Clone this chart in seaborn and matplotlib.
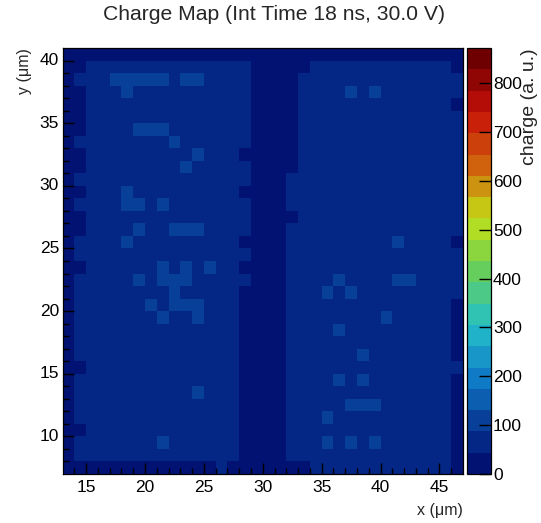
import numpy as np
import pandas as pd
import matplotlib
matplotlib.use("Agg")
import matplotlib.pyplot as plt
from matplotlib.colors import ListedColormap, LinearSegmentedColormap
from matplotlib.ticker import FixedLocator
import seaborn as sns

# ---------------- data ----------------
# bin edges (1 um bins)
x_first_edge = 13      # x from 13 to 47 um
y_top_edge = 41        # y from 41 (top) down to 7 um
n_bins = 34

# charge level code per cell, rows from top (y=40..41) to bottom (y=7..8),
# columns from x=13..14 to x=46..47
# 0 -> darkest level, 1 -> second level, 2 -> third level
cell_rows = [
    "0000000000000000000000000000000000",
    "0011111111111111000001111111111110",
    "0111222221221111000011111111111111",
    "0011121111111111000011112121111111",
    "0011111111111111000011111111111110",
    "0011111111111111000011111111111111",
    "0011112221111111000011111111111111",
    "0111111112111111000011111111111111",
    "0011111111121110000011111111111111",
    "0011111111211111000011111111111111",
    "0111111111111111000111111111111111",
    "0011121111111110000111111111111111",
    "0111122121111111000111111111111111",
    "0011111111111111000011111111111111",
    "0011112112221111000111111111111111",
    "0111121111111110000111111111211110",
    "0111111111111111000111111111111111",
    "0011111121212110000111111111111111",
    "0111112122211111000111121111221111",
    "0111111112111110000111212111111111",
    "0111111212221110000111111111111110",
    "0111111121121110000111111112111110",
    "0111111111111110000111121111111110",
    "0111111111111110000111111111111110",
    "0111111111111110000111111211111110",
    "0011111111111110000111111111111111",
    "0111111111111110000111121211111110",
    "0111111111121110000111111111111110",
    "0111111111111110000111112221111110",
    "0111111111111110000111211111111110",
    "0011111111111110000111111111111110",
    "0111111121111110000111212121111110",
    "0111111111111110000111111111111110",
    "0000000000000100000001111111111110",
]
# representative charge (a.u.) for each level code
level_charge = [24, 66, 108]

x_ticks = [15, 20, 25, 30, 35, 40, 45]
y_ticks = [10, 15, 20, 25, 30, 35, 40]
z_max = 872
n_levels = 20
cbar_ticks = [0, 100, 200, 300, 400, 500, 600, 700, 800]

title = "Charge Map (Int Time 18 ns, 30.0 V)"
xlabel = "x (\u03bcm)"
ylabel = "y (\u03bcm)"
zlabel = "charge (a. u.)"

# ---------------- build table ----------------
x_lo = [x_first_edge + i for i in range(n_bins)]
y_lo = [y_top_edge - 1 - j for j in range(n_bins)]
charge = [[level_charge[int(ch)] for ch in row] for row in cell_rows]
df = pd.DataFrame(charge, index=y_lo, columns=x_lo)

# ROOT kRainBow palette, discretised in 20 contour levels
rainbow_anchor = [
    (0, 0, 99), (5, 48, 142), (15, 124, 198), (35, 192, 201), (102, 206, 90),
    (196, 226, 22), (208, 97, 13), (199, 16, 8), (110, 0, 2)]
base = LinearSegmentedColormap.from_list(
    "krainbow", [tuple(c / 255 for c in a) for a in rainbow_anchor], N=256)
level_colors = [base((i + 0.99) / n_levels) for i in range(n_levels)]
cmap = ListedColormap(level_colors)

# ---------------- figure ----------------
sns.set_style("white")
plt.rcParams["font.family"] = ["Liberation Sans", "DejaVu Sans"]

W, H = 541, 523
fig = plt.figure(figsize=(W / 100, H / 100), dpi=100)
L, R, T, B = 62.5, 463.0, 48.0, 474.0
ax = fig.add_axes([L / W, 1 - B / H, (R - L) / W, (B - T) / H])
cax = fig.add_axes([467 / W, 1 - B / H, 24 / W, (B - T) / H])

sns.heatmap(df, ax=ax, cbar_ax=cax, cmap=cmap, vmin=0, vmax=z_max,
            linewidths=0, cbar_kws={"ticks": cbar_ticks})
ax.set_axisbelow(False)
cax.set_axisbelow(False)

tick_fs = 12.5
# axis ticks in data units
ax.set_xticks([v - x_first_edge for v in x_ticks], [str(v) for v in x_ticks], rotation=0)
ax.set_yticks([y_top_edge - v for v in y_ticks], [str(v) for v in y_ticks], rotation=0)
ax.xaxis.set_minor_locator(FixedLocator([v - x_first_edge for v in range(14, 47)]))
ax.yaxis.set_minor_locator(FixedLocator([y_top_edge - v for v in range(8, 41)]))
ax.tick_params(which="both", direction="in", bottom=True, left=True, top=False,
               right=False, color="black", width=1.0, labelsize=tick_fs,
               labelcolor="black")
ax.tick_params(which="major", length=8.2)
ax.tick_params(which="minor", length=4.3)
ax.tick_params(axis="x", which="major", pad=4.0)
ax.tick_params(axis="y", which="major", pad=2.5)
ax.set_xlabel("")
ax.set_ylabel("")
for s in ax.spines.values():
    s.set_visible(True)
    s.set_color("black")
    s.set_linewidth(0.9)
    s.set_zorder(5)

cb = ax.collections[0].colorbar
cb.outline.set_visible(True)
cb.outline.set_linewidth(0.9)
cb.outline.set_edgecolor("black")
cax.tick_params(direction="in", length=8.5, width=1.0, right=True, left=False,
                labelsize=tick_fs, pad=1.5, color="black", labelcolor="black")

fig.text(274 / W, 1 - 15 / H, title, ha="center", va="center", fontsize=15.2)
fig.text(R / W, 1 - 511 / H, xlabel, ha="right", va="center", fontsize=11.5)
fig.text(24 / W, 1 - T / H, ylabel, ha="center", va="top", rotation=90, fontsize=11.5)
fig.text(530 / W, 1 - T / H, zlabel, ha="center", va="top", rotation=90, fontsize=14)

fig.savefig("out.png", dpi=100)
